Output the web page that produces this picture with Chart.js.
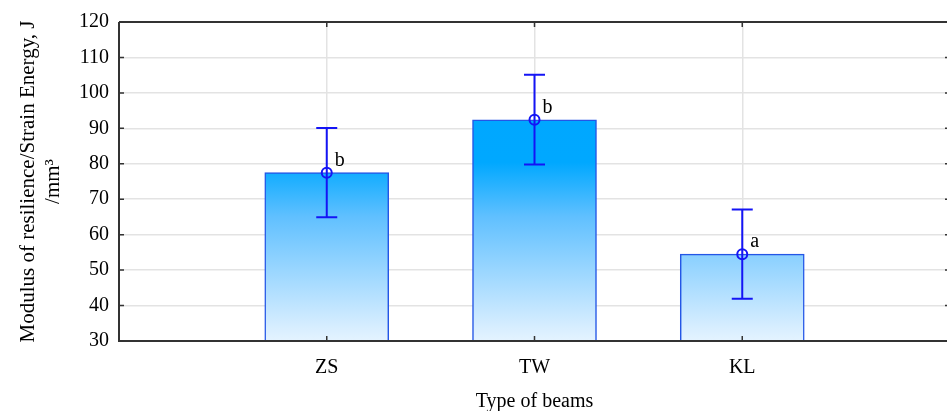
<!DOCTYPE html>
<html>
<head>
<meta charset="utf-8">
<script src="https://cdn.jsdelivr.net/npm/chart.js@4.4.1/dist/chart.umd.min.js"></script>
<style>
    html, body { margin: 0; padding: 0; background: #fff; overflow: hidden; }
    #wrap { width: 947px; height: 411px; overflow: hidden; }
</style>
</head>
<body>
<div id="wrap"><canvas id="chart" width="952" height="411"></canvas></div>
<script>
const categories = ["ZS", "TW", "KL"];
const means = [77.5, 92.4, 54.5];
const lower = [64.9, 79.8, 41.9];
const upper = [90.1, 105.1, 67.1];
const letters = ["b", "b", "a"];
const yTicks = [30, 40, 50, 60, 70, 80, 90, 100, 110, 120];

const FONT = "'Liberation Serif', 'Times New Roman', serif";
const AXIS = "#333";
const BLUE = "#1414f5";

function barFill(context) {
    const area = context.chart.chartArea;
    if (!area) return "#6ec6ff";
    const g = context.chart.ctx.createLinearGradient(0, area.top, 0, area.bottom);
    g.addColorStop(0, "#00a6ff");
    g.addColorStop(0.44, "#00a8ff");
    g.addColorStop(0.61, "#60c0ff");
    g.addColorStop(0.96, "#d8eeff");
    g.addColorStop(1, "#e4f3ff");
    return g;
}

const errorBars = {
    id: "errorBars",
    afterDatasetsDraw(chart) {
        const { ctx, scales: { x, y } } = chart;
        ctx.save();
        ctx.strokeStyle = BLUE;
        ctx.lineWidth = 2;
        categories.forEach((c, i) => {
            const px = x.getPixelForValue(i + 1);
            const yl = y.getPixelForValue(lower[i]);
            const yu = y.getPixelForValue(upper[i]);
            const ym = y.getPixelForValue(means[i]);
            ctx.beginPath();
            ctx.moveTo(px, yl); ctx.lineTo(px, yu);
            ctx.moveTo(px - 10.5, yu); ctx.lineTo(px + 10.5, yu);
            ctx.moveTo(px - 10.5, yl); ctx.lineTo(px + 10.5, yl);
            ctx.stroke();
            ctx.beginPath();
            ctx.arc(px, ym, 5, 0, Math.PI * 2);
            ctx.stroke();
            ctx.fillStyle = "#000";
            ctx.font = "20px " + FONT;
            ctx.textAlign = "left";
            ctx.textBaseline = "alphabetic";
            ctx.fillText(letters[i], px + 8, ym - 7);
        });
        ctx.restore();
    },
    afterDraw(chart) {
        const { ctx, chartArea: a, scales: { x, y } } = chart;
        ctx.save();
        ctx.strokeStyle = AXIS;
        ctx.lineWidth = 2;
        ctx.beginPath();
        ctx.moveTo(a.left, a.top); ctx.lineTo(a.left, a.bottom);
        ctx.lineTo(a.right, a.bottom); ctx.lineTo(a.right, a.top);
        ctx.lineTo(a.left, a.top);
        ctx.stroke();
        ctx.lineWidth = 1.5;
        ctx.beginPath();
        yTicks.forEach(v => {
            const py = y.getPixelForValue(v);
            ctx.moveTo(a.left, py); ctx.lineTo(a.left + 5, py);
            ctx.moveTo(a.right, py); ctx.lineTo(a.right - 5, py);
        });
        categories.forEach((c, i) => {
            const px = x.getPixelForValue(i + 1);
            ctx.moveTo(px, a.bottom); ctx.lineTo(px, a.bottom - 5);
            ctx.moveTo(px, a.top); ctx.lineTo(px, a.top + 5);
        });
        ctx.stroke();
        ctx.restore();
    }
};

new Chart(document.getElementById("chart"), {
    type: "bar",
    data: {
        datasets: [{
            data: categories.map((c, i) => ({ x: i + 1, y: means[i] })),
            backgroundColor: barFill,
            borderColor: "#2456e6",
            borderWidth: 1.5,
            barThickness: 124
        }]
    },
    options: {
        responsive: false,
        devicePixelRatio: 1,
        animation: false,
        layout: { padding: { top: 18.5, right: 2, left: 0, bottom: 0 } },
        plugins: { legend: { display: false }, tooltip: { enabled: false } },
        scales: {
            x: {
                type: "linear",
                offset: false,
                min: 0,
                max: 4,
                afterBuildTicks: s => { s.ticks = categories.map((c, i) => ({ value: i + 1 })); },
                afterFit: s => { s.height = 70; },
                ticks: {
                    callback: v => categories[v - 1] ?? "",
                    color: "#000",
                    font: { family: FONT, size: 20 },
                    padding: 15,
                    maxRotation: 0
                },
                grid: { color: "#e3e3e3", lineWidth: 1.5, drawTicks: false, offset: false },
                border: { display: false },
                title: {
                    display: true,
                    text: "Type of beams",
                    color: "#000",
                    font: { family: FONT, size: 20, lineHeight: 1.1 },
                    padding: { top: 0, bottom: -2 }
                }
            },
            y: {
                min: 30,
                max: 120,
                afterBuildTicks: s => { s.ticks = yTicks.map(v => ({ value: v })); },
                afterFit: s => { s.width = 119; },
                ticks: {
                    color: "#000",
                    font: { family: FONT, size: 20 },
                    padding: 10
                },
                grid: { color: "#e3e3e3", lineWidth: 1.5, drawTicks: false },
                border: { display: false },
                title: {
                    display: true,
                    text: ["Modulus of resilience/Strain Energy, J", "/mm\u00b3"],
                    color: "#000",
                    font: { family: FONT, size: 21, lineHeight: 1.2 },
                    padding: { top: 15.4, bottom: 0 }
                }
            }
        }
    },
    plugins: [errorBars]
});
</script>
</body>
</html>
